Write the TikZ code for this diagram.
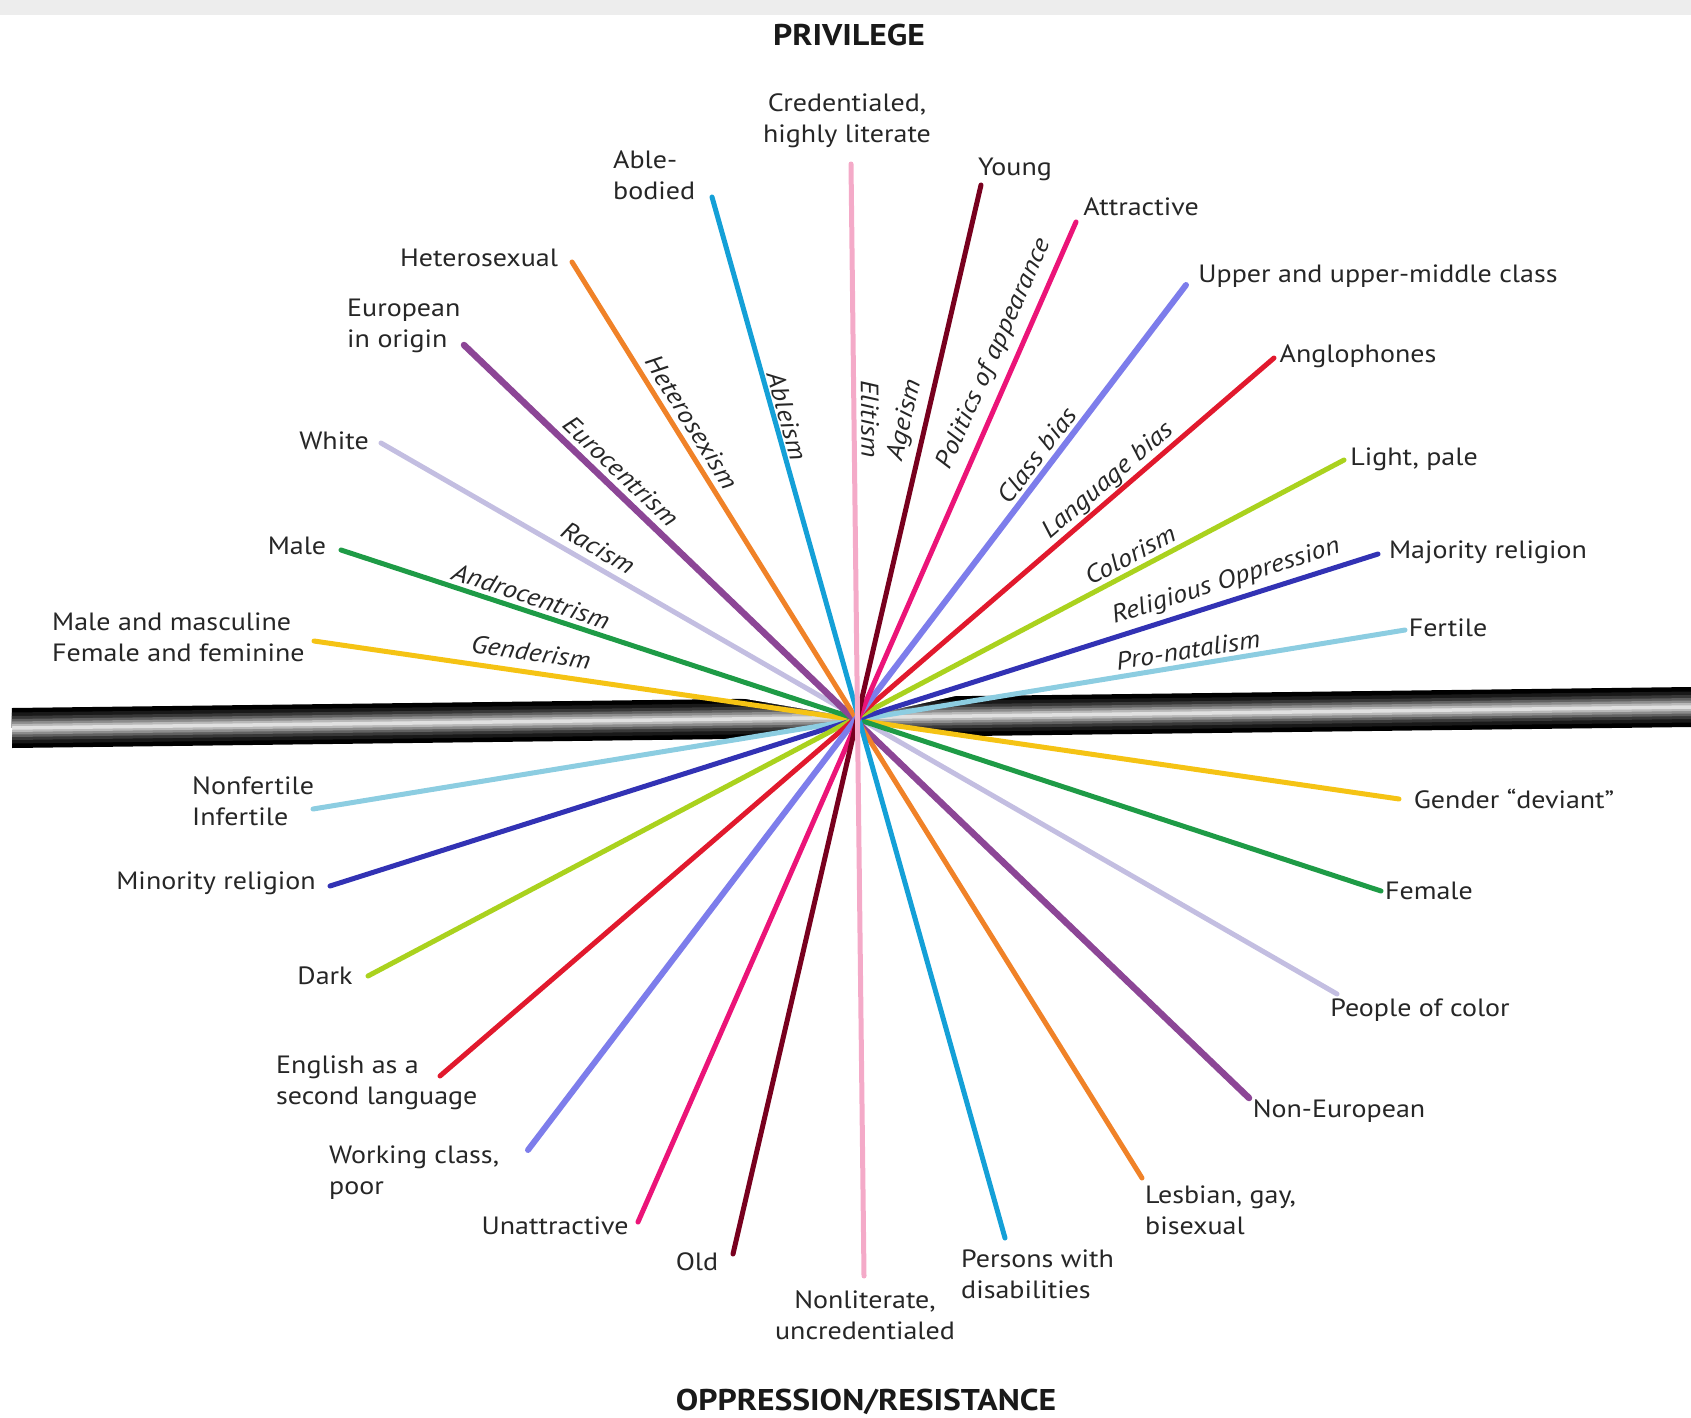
\documentclass[tikz,border=0pt]{standalone}
\usepackage{fontspec}
\setmainfont[FakeStretch=1.12]{PT Sans}
\usetikzlibrary{positioning}

\definecolor{elitPink}{RGB}{244,170,200}
\definecolor{ablBlue}{RGB}{20,160,215}
\definecolor{ageRed}{RGB}{120,0,30}
\definecolor{lookMag}{RGB}{235,20,120}
\definecolor{classPer}{RGB}{125,125,235}
\definecolor{langRed}{RGB}{225,25,45}
\definecolor{colGreen}{RGB}{170,210,30}
\definecolor{relBlue}{RGB}{50,50,180}
\definecolor{natBlue}{RGB}{140,205,225}
\definecolor{gendGold}{RGB}{245,195,20}
\definecolor{andGreen}{RGB}{30,155,70}
\definecolor{racLav}{RGB}{195,190,225}
\definecolor{euroPur}{RGB}{140,70,150}
\definecolor{hetOrange}{RGB}{240,130,40}

\begin{document}
\begin{tikzpicture}[
    x=1pt, y=-1pt,
    font=\fontsize{25}{31}\selectfont,
    spoke/.style={line width=5pt, line cap=round},
    tag/.style={inner sep=0pt, text=black!85},
    stack/.style={tag, align=left, anchor=west},
    ism/.style={inner sep=0pt, text=black!85, font=\fontsize{25}{31}\selectfont\itshape},
    pole/.style={inner sep=0pt, text=black!90, font=\fontsize{30}{34}\selectfont\bfseries}
]
\useasboundingbox (0,0) rectangle (1691,1418);
\fill[black!7] (0,0) rectangle (1691,15);

% the rod
\coordinate (rodL) at (12,728);
\coordinate (rodR) at (1691,707);
\draw[line width=40pt, black] (rodL) -- (rodR);
\draw[line width=31pt, black!90] (rodL) -- (rodR);
\draw[line width=24pt, black!78] (rodL) -- (rodR);
\draw[line width=18pt, black!62] (rodL) -- (rodR);
\draw[line width=13pt, black!45] (rodL) -- (rodR);
\draw[line width=8pt, black!28] (rodL) -- (rodR);
\draw[line width=3.5pt, black!12] (rodL) -- (rodR);
\coordinate (hub) at (857,718);
\fill[white] (740,698) -- (hub) -- (960,695) -- (960,685) -- (740,685) -- cycle;
\fill[white] (740,740) -- (hub) -- (960,737) -- (960,750) -- (740,750) -- cycle;

% spoke ends
\coordinate (credE) at (851,164);   \coordinate (nonlitE) at (864,1276);
\coordinate (ableE) at (712,197);   \coordinate (disabE) at (1005,1238);
\coordinate (youngE) at (981,185);  \coordinate (oldE) at (733,1254);
\coordinate (attrE) at (1076,222);  \coordinate (unattrE) at (638,1222);
\coordinate (heteroE) at (572,262); \coordinate (lgbE) at (1142,1178);
\coordinate (upperE) at (1186,285); \coordinate (workE) at (528,1150);
\coordinate (euroE) at (464,345);   \coordinate (noneuroE) at (1249,1098);
\coordinate (angloE) at (1274,358); \coordinate (eslE) at (440,1076);
\coordinate (whiteE) at (381,443);  \coordinate (pocE) at (1337,994);
\coordinate (lightE) at (1344,460); \coordinate (darkE) at (368,976);
\coordinate (maleE) at (341,550);   \coordinate (femaleE) at (1381,891);
\coordinate (majE) at (1378,554);   \coordinate (minE) at (330,886);
\coordinate (mascE) at (314,641);   \coordinate (devE) at (1399,799);
\coordinate (fertE) at (1405,630);  \coordinate (infertE) at (313,809);

\draw[spoke, racLav] (whiteE) -- (pocE);
\draw[spoke, natBlue] (fertE) -- (infertE);
\draw[spoke, gendGold] (mascE) -- (devE);
\draw[spoke, andGreen] (maleE) -- (femaleE);
\draw[spoke, relBlue] (majE) -- (minE);
\draw[spoke, colGreen] (lightE) -- (darkE);
\draw[spoke, langRed] (angloE) -- (eslE);
\draw[spoke, euroPur, line width=6.5pt] (euroE) -- (noneuroE);
\draw[spoke, hetOrange] (heteroE) -- (lgbE);
\draw[spoke, classPer, line width=6pt] (upperE) -- (workE);
\draw[spoke, ablBlue] (ableE) -- (disabE);
\draw[spoke, lookMag] (attrE) -- (unattrE);
\draw[spoke, ageRed] (youngE) -- (oldE);
\draw[spoke, elitPink] (credE) -- (nonlitE);

% poles
\node[pole] (privilege) at (849,35) {PRIVILEGE};
\node[pole] (oppression) at (866,1402) {OPPRESSION/RESISTANCE};

% privileged ends
\node[tag, align=center] (cred) at (847,121) {Credentialed,\\highly literate};
\node[stack] (able) at (613,175) {Able-\\bodied};
\node[tag] (young) at (1015,169) {Young};
\node[tag] (attr) at (1141,207) {Attractive};
\node[tag] (hetero) at (479,258) {Heterosexual};
\node[tag] (upper) at (1378,276) {Upper and upper-middle class};
\node[stack] (euro) at (347,326) {European\\in origin};
\node[tag] (anglo) at (1358,356) {Anglophones};
\node[tag] (white) at (334,441) {White};
\node[tag] (light) at (1414,459) {Light, pale};
\node[tag] (male) at (297,546) {Male};
\node[tag] (maj) at (1488,552) {Majority religion};
\node[stack] (masc) at (52,637) {Male and masculine\\Female and feminine};
\node[tag] (fert) at (1448,628) {Fertile};

% oppressed ends
\node[stack] (infert) at (192,801) {Nonfertile\\Infertile};
\node[tag] (dev) at (1514,799) {Gender “deviant”};
\node[tag] (min) at (216,883) {Minority religion};
\node[tag] (female) at (1429,891) {Female};
\node[tag] (dark) at (325,976) {Dark};
\node[tag] (poc) at (1420,1010) {People of color};
\node[stack] (esl) at (276,1083) {English as a\\second language};
\node[tag] (noneuro) at (1339,1111) {Non-European};
\node[stack] (work) at (329,1173) {Working class,\\poor};
\node[stack] (lgb) at (1145,1210) {Lesbian, gay,\\bisexual};
\node[tag] (unattr) at (555,1226) {Unattractive};
\node[tag] (old) at (697,1262) {Old};
\node[stack] (disab) at (961,1274) {Persons with\\disabilities};
\node[tag, align=center] (nonlit) at (865,1315) {Nonliterate,\\uncredentialed};

% the -isms
\node[ism, rotate=-8] (genderism) at (531,652) {Genderism};
\node[ism, rotate=-18] (andro) at (531,596) {Androcentrism};
\node[ism, rotate=-30] (racism) at (598,548) {Racism};
\node[ism, rotate=-43.5] (eurocen) at (621,471) {Eurocentrism};
\node[ism, rotate=-58] (heterosex) at (692,422) {Heterosexism};
\node[ism, rotate=-74.4] (ableism) at (787,416) {Ableism};
\node[ism, rotate=-89.4] (elitism) at (870,419) {Elitism};
\node[ism, rotate=76.9] (ageism) at (905,420) {Ageism};
\node[ism, rotate=66.2] (politics) at (994,354) {Politics of appearance};
\node[ism, rotate=52.8] (classbias) at (1037,455) {Class bias};
\node[ism, rotate=40.8] (langbias) at (1108,481) {Language bias};
\node[ism, rotate=27.9] (colorism) at (1130,555) {Colorism};
\node[ism, rotate=17.5] (religion) at (1226,582) {Religious Oppression};
\node[ism, rotate=9.1] (natalism) at (1188,650) {Pro-natalism};
\end{tikzpicture}
\end{document}
